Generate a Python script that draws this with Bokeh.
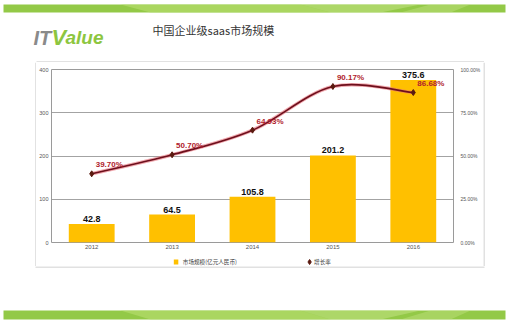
from bokeh.plotting import figure
from bokeh.layouts import column, row
from bokeh.models import (ColumnDataSource, FactorRange, Range1d, LinearAxis, FixedTicker,
                          PrintfTickFormatter)
from bokeh.embed import file_html
from bokeh.resources import INLINE
from bokeh.core.properties import value

# ---- data ----
years = ["2012", "2013", "2014", "2015", "2016"]
market = [42.8, 64.5, 105.8, 201.2, 375.6]          # 市场规模(亿元人民币)
growth = [39.70, 50.70, 64.93, 90.17, 86.68]        # 增长率 (%)
market_labels = ["42.8", "64.5", "105.8", "201.2", "375.6"]
growth_labels = ["39.70%", "50.70%", "64.93%", "90.17%", "86.68%"]
left_ticks = [0, 100, 200, 300, 400]
right_ticks = [0, 25, 50, 75, 100]
title_text = "中国企业级saas市场规模"
legend_names = ["市场规模(亿元人民币)", "增长率"]

W = 508
HEAD_H, MAIN_H, LEG_H, FOOT_H = 62, 192, 12, 55
LEFT_PAD, MAIN_W = 36, 447
RIGHT_PAD = W - LEFT_PAD - MAIN_W
MID_H = MAIN_H + LEG_H
BOX_BOTTOM = HEAD_H + MID_H
BAR_COLOR = "#FFC000"
MARK_COLOR = "#5a1a10"
BORDER = "#c4c4c4"


def deco_fig(w, h, x0=0, y0=0):
    f = figure(width=w, height=h, x_range=Range1d(x0, x0 + w), y_range=Range1d(y0 + h, y0),
               output_backend="svg", toolbar_location=None,
               min_border=0, min_border_left=0, min_border_right=0,
               min_border_top=0, min_border_bottom=0)
    f.axis.visible = False
    f.grid.visible = False
    f.outline_line_color = None
    f.background_fill_color = "white"
    f.border_fill_color = "white"
    return f


def green_band(f, top, bottom):
    f.quad(left=[3], right=[505], top=[top], bottom=[bottom],
           fill_color="#93c947", line_color=None)
    f.patch(x=[120, 300, 330, 150], y=[top, top, bottom, bottom],
            fill_color="#b9df72", fill_alpha=0.6, line_color=None)
    f.patch(x=[300, 420, 380, 330], y=[top, top, bottom, bottom],
            fill_color="#c8e68a", fill_alpha=0.5, line_color=None)
    f.patch(x=[430, 470, 450, 400], y=[top, top, bottom, bottom],
            fill_color="#c8e68a", fill_alpha=0.4, line_color=None)


# ---- header ----
head = deco_fig(W, HEAD_H)
green_band(head, 4, 12)
head.text(x=[33], y=[37], text=["IT"], text_font=value("Liberation Sans"),
          text_font_style="bold italic", text_font_size="20px", text_color="#8a8a8a",
          text_baseline="alphabetic")
head.text(x=[51], y=[37], text=["V"], text_font=value("Liberation Sans"),
          text_font_style="bold italic", text_font_size="22px", text_color="#8dc63f",
          text_baseline="alphabetic")
head.text(x=[65], y=[37], text=["alue"], text_font=value("Liberation Sans"),
          text_font_style="bold italic", text_font_size="19px", text_color="#8dc63f",
          text_baseline="alphabetic")
head.text(x=[152], y=[29], text=[title_text], text_font=value("Noto Sans CJK SC"),
          text_font_size="11px", text_color="#333333", text_baseline="middle")
head.segment(x0=[LEFT_PAD], y0=[HEAD_H - 0.5], x1=[LEFT_PAD + MAIN_W + 0.5], y1=[HEAD_H - 0.5],
             line_color=BORDER, line_width=1)

# ---- main chart ----
p = figure(width=MAIN_W, height=MAIN_H, x_range=FactorRange(*years), y_range=Range1d(0, 400),
           output_backend="svg", toolbar_location=None,
           min_border_left=15, min_border_right=29, min_border_top=7, min_border_bottom=12)
p.extra_y_ranges = {"pct": Range1d(0, 100)}
p.background_fill_color = "white"
p.border_fill_color = "white"
p.outline_line_color = "#9a9a9a"

p.yaxis.ticker = FixedTicker(ticks=left_ticks)
ra = LinearAxis(y_range_name="pct", ticker=FixedTicker(ticks=right_ticks),
                formatter=PrintfTickFormatter(format="%.2f%%"))
p.add_layout(ra, "right")
for ax in [p.yaxis[0], p.xaxis[0], ra]:
    ax.major_label_text_font_size = "6px"
    ax.major_label_text_color = "#555555"
    ax.major_tick_line_color = None
    ax.minor_tick_line_color = None
    ax.major_tick_out = 0
    ax.major_tick_in = 0
    ax.minor_tick_out = 0
    ax.minor_tick_in = 0
    ax.axis_line_color = None
p.yaxis[0].major_label_text_font_size = "5.5px"
p.yaxis[0].major_label_standoff = 3
p.xaxis[0].major_label_standoff = 2
ra.major_label_text_font_size = "5px"
ra.major_label_standoff = 7

p.xgrid.grid_line_color = None
p.ygrid.grid_line_color = "#8c8c8c"
p.ygrid.grid_line_width = 0.8

src = ColumnDataSource(dict(year=years, market=market, ml=market_labels))
p.vbar(x="year", top="market", width=0.57, source=src,
       fill_color=BAR_COLOR, line_color=None)
p.text(x="year", y="market", text="ml", source=src, text_align="center",
       text_baseline="bottom", y_offset=-2, text_font_size="9px",
       text_font_style="bold", text_color="#111111", text_font=value("Liberation Sans"))

# smooth growth line (Catmull-Rom -> cubic bezier through the data points)
xs = [i + 0.5 for i in range(len(growth))]
n = len(xs)
bz = dict(x0=[], y0=[], x1=[], y1=[], cx0=[], cy0=[], cx1=[], cy1=[])
for i in range(n - 1):
    i0 = max(i - 1, 0)
    i3 = min(i + 2, n - 1)
    bz["x0"].append(xs[i]); bz["y0"].append(growth[i])
    bz["x1"].append(xs[i + 1]); bz["y1"].append(growth[i + 1])
    bz["cx0"].append(xs[i] + (xs[i + 1] - xs[i0]) / 6)
    bz["cy0"].append(growth[i] + (growth[i + 1] - growth[i0]) / 6)
    bz["cx1"].append(xs[i + 1] - (xs[i3] - xs[i]) / 6)
    bz["cy1"].append(growth[i + 1] - (growth[i3] - growth[i]) / 6)
bsrc = ColumnDataSource(bz)
p.bezier(x0="x0", y0="y0", x1="x1", y1="y1", cx0="cx0", cy0="cy0", cx1="cx1", cy1="cy1",
         source=bsrc, y_range_name="pct", line_color="#e8707a", line_width=3.5, line_alpha=0.6)
p.bezier(x0="x0", y0="y0", x1="x1", y1="y1", cx0="cx0", cy0="cy0", cx1="cx1", cy1="cy1",
         source=bsrc, y_range_name="pct", line_color="#6e0f1c", line_width=1.6)
gsrc = ColumnDataSource(dict(x=xs, g=growth, gl=growth_labels))
p.scatter(x="x", y="g", source=gsrc, y_range_name="pct", marker="diamond",
          size=6, fill_color=MARK_COLOR, line_color=MARK_COLOR)
p.text(x="x", y="g", text="gl", source=gsrc, y_range_name="pct", text_align="left",
       text_baseline="middle", x_offset=4, y_offset=-9, text_font_size="8px",
       text_font_style="bold", text_color="#b01c2c", text_font=value("Liberation Sans"))

# ---- legend strip (inside the chart box) ----
leg_top = HEAD_H + MAIN_H
leg = deco_fig(MAIN_W, LEG_H, x0=LEFT_PAD, y0=leg_top)
ly = leg_top + 7.5
leg.quad(left=[172], right=[177], top=[ly - 2.5], bottom=[ly + 2.5],
         fill_color=BAR_COLOR, line_color=None)
leg.scatter(x=[323], y=[ly], marker="diamond", size=5, fill_color=MARK_COLOR,
            line_color=MARK_COLOR)
leg.text(x=[182, 328], y=[ly, ly], text=legend_names, text_font=value("Noto Sans CJK SC"),
         text_font_size="5.6px", text_color="#444444", text_baseline="middle")

# side strips carrying the chart box's vertical edges
lside = deco_fig(LEFT_PAD, MID_H, x0=0, y0=HEAD_H)
lside.segment(x0=[LEFT_PAD - 0.5], y0=[HEAD_H], x1=[LEFT_PAD - 0.5], y1=[BOX_BOTTOM],
              line_color=BORDER, line_width=1)
rside = deco_fig(RIGHT_PAD, MID_H, x0=LEFT_PAD + MAIN_W, y0=HEAD_H)
rside.segment(x0=[LEFT_PAD + MAIN_W + 0.5], y0=[HEAD_H], x1=[LEFT_PAD + MAIN_W + 0.5],
              y1=[BOX_BOTTOM], line_color=BORDER, line_width=1)

# ---- footer (carries the chart box's bottom edge) ----
foot = deco_fig(W, FOOT_H, x0=0, y0=BOX_BOTTOM)
foot.segment(x0=[LEFT_PAD - 1], y0=[BOX_BOTTOM + 0.5], x1=[LEFT_PAD + MAIN_W + 1],
             y1=[BOX_BOTTOM + 0.5], line_color=BORDER, line_width=1)
green_band(foot, 310, 319)

layout = column(head,
                row(lside, column(p, leg, spacing=0), rside, spacing=0),
                foot, spacing=0)

open("out.html", "w").write(file_html(layout, INLINE))
